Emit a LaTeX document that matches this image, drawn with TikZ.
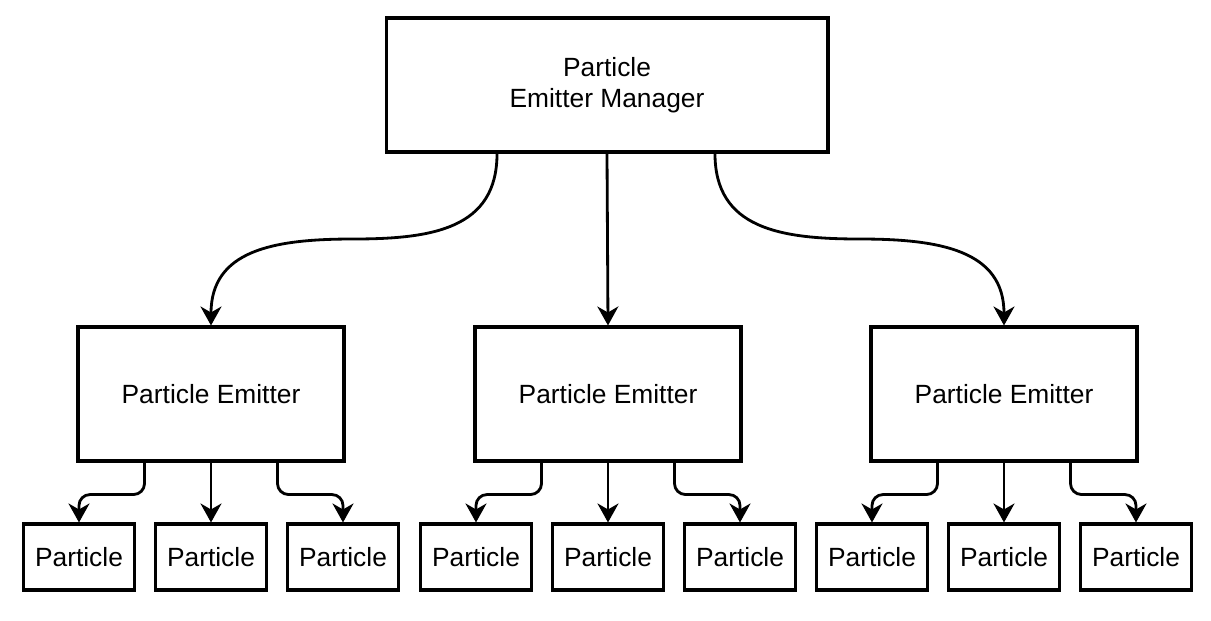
\documentclass[tikz,border=0pt]{standalone}
\usepackage{fontspec}
\setmainfont{Liberation Sans}
\usetikzlibrary{arrows.meta}
\begin{document}
\begin{tikzpicture}[x=0.02cm,y=-0.02cm,
  box/.style={draw=black, line width=1.75pt, fill=white, inner sep=0pt, align=center,
    font=\fontsize{15}{17.5}\selectfont},
  mgr/.style={box, minimum width=8.84cm, minimum height=2.68cm},
  emitter/.style={box, minimum width=5.32cm, minimum height=2.68cm},
  particle/.style={box, minimum width=2.22cm, minimum height=1.32cm},
  edge/.style={draw=black, line width=1.6pt,
    -{Stealth[length=0.38cm, width=0.42cm, inset=0.12cm]}},
  stepedge/.style={edge, rounded corners=0.22cm}]
\useasboundingbox (0,0) rectangle (1211,620);
\node[mgr] (top) at (607,85) {Particle\\Emitter Manager};
\node[emitter] (e1) at (211,394) {Particle Emitter};
\node[emitter] (e2) at (608,394) {Particle Emitter};
\node[emitter] (e3) at (1004,394) {Particle Emitter};
\foreach \g/\c in {1/211,2/608,3/1004}{
  \node[particle] (p\g a) at (\c-132,557) {Particle};
  \node[particle] (p\g b) at (\c,557) {Particle};
  \node[particle] (p\g c) at (\c+132,557) {Particle};
}
\coordinate (m1) at (353,239);
\coordinate (m3) at (860,239);
\draw[edge] ([xshift=-2.2cm]top.south) .. controls +(0,75) and +(80,0) .. (m1)
  .. controls +(-80,0) and +(0,-75) .. (e1.north);
\draw[edge] (top.south) -- (e2.north);
\draw[edge] ([xshift=2.16cm]top.south) .. controls +(0,75) and +(-80,0) .. (m3)
  .. controls +(80,0) and +(0,-75) .. (e3.north);
\foreach \g in {1,2,3}{
  \draw[stepedge] ([xshift=-1.33cm]e\g.south) -- ++(0,32) -| (p\g a.north);
  \draw[edge] (e\g.south) -- (p\g b.north);
  \draw[stepedge] ([xshift=1.33cm]e\g.south) -- ++(0,32) -| (p\g c.north);
}
\end{tikzpicture}
\end{document}
